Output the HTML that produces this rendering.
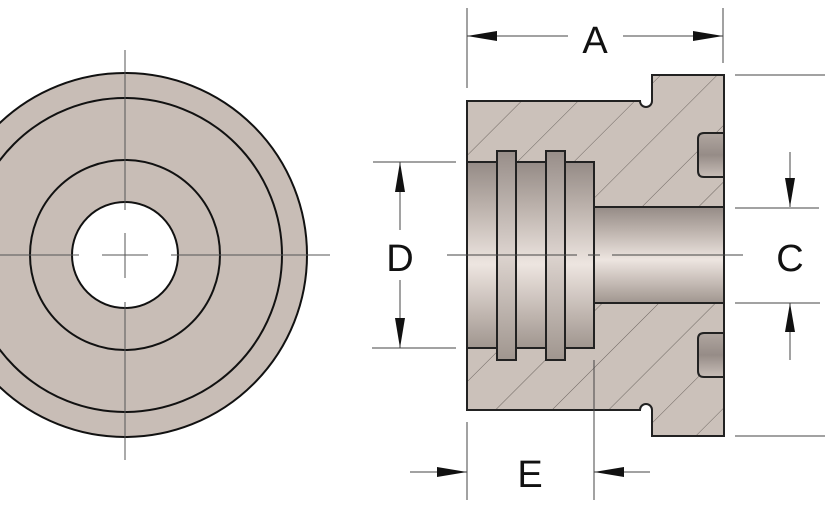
<!DOCTYPE html>
<html><head><meta charset="utf-8"><style>
html,body{margin:0;padding:0;background:#fff;}
svg{display:block}
text{font-family:"Liberation Sans",sans-serif;font-size:38px;fill:#111}
</style></head><body>
<svg width="825" height="510" viewBox="0 0 825 510" xmlns="http://www.w3.org/2000/svg">
<defs>
<pattern id="hatch" patternUnits="userSpaceOnUse" width="40" height="40" patternTransform="rotate(45)">
<rect width="40" height="40" fill="#cbc1ba"/>
<line x1="0" y1="0" x2="0" y2="40" stroke="#6e6661" stroke-width="1"/>
</pattern>
<linearGradient id="bore" x1="0" y1="0" x2="0" y2="1">
<stop offset="0" stop-color="#958b86"/><stop offset="0.25" stop-color="#bdb3ad"/>
<stop offset="0.55" stop-color="#ede5e0"/><stop offset="0.8" stop-color="#c3b9b3"/><stop offset="1" stop-color="#a0968f"/>
</linearGradient>
<linearGradient id="groove" x1="0" y1="0" x2="0" y2="1">
<stop offset="0" stop-color="#988e89"/><stop offset="0.5" stop-color="#dcd3ce"/><stop offset="1" stop-color="#a0968f"/>
</linearGradient>
<linearGradient id="pocket" x1="0" y1="0" x2="0" y2="1">
<stop offset="0" stop-color="#b0a6a0"/><stop offset="0.5" stop-color="#968c87"/><stop offset="1" stop-color="#c8beb8"/>
</linearGradient>
</defs>

<circle cx="125" cy="255" r="182" fill="#c8bdb6" stroke="#111" stroke-width="2"/>
<circle cx="125" cy="255" r="157" fill="none" stroke="#111" stroke-width="2"/>
<circle cx="125" cy="255" r="95" fill="none" stroke="#111" stroke-width="2"/>
<circle cx="125" cy="255" r="53" fill="#fff" stroke="#111" stroke-width="2"/>
<g stroke="#555" stroke-width="1">
<line x1="125" y1="50" x2="125" y2="210"/><line x1="125" y1="233" x2="125" y2="278"/><line x1="125" y1="302" x2="125" y2="460"/>
<line x1="0" y1="255" x2="79" y2="255"/><line x1="102" y1="255" x2="148" y2="255"/><line x1="171" y1="255" x2="330" y2="255"/>
</g>

<path d="M467,101 H640 A6,6 0 0 0 652,101 V75 H724 V436 H652 V410 A6,6 0 0 0 640,410 H467 Z" fill="url(#hatch)" stroke="#222" stroke-width="2"/>
<rect x="467" y="162" width="127" height="186" fill="url(#bore)" stroke="#222" stroke-width="2"/>
<rect x="497" y="151" width="19" height="209" fill="url(#groove)" stroke="#222" stroke-width="2"/>
<rect x="546" y="151" width="19" height="209" fill="url(#groove)" stroke="#222" stroke-width="2"/>
<rect x="594" y="207" width="130" height="96" fill="url(#bore)" stroke="#222" stroke-width="2"/>
<line x1="467" y1="162" x2="467" y2="348" stroke="#222" stroke-width="2"/>
<path d="M724,133 H704 Q698,133 698,139 V171 Q698,177 704,177 H724" fill="url(#pocket)" stroke="#222" stroke-width="2"/>
<path d="M724,333 H704 Q698,333 698,339 V371 Q698,377 704,377 H724" fill="url(#pocket)" stroke="#222" stroke-width="2"/>
<line x1="724" y1="133" x2="724" y2="177" stroke="#222" stroke-width="2"/>
<line x1="724" y1="333" x2="724" y2="377" stroke="#222" stroke-width="2"/>

<g stroke="#444" stroke-width="1">
<line x1="447" y1="255" x2="577" y2="255"/><line x1="588" y1="255" x2="600" y2="255"/><line x1="612" y1="255" x2="743" y2="255"/>
<line x1="467" y1="8" x2="467" y2="88"/><line x1="723" y1="8" x2="723" y2="63"/>
<line x1="467" y1="36" x2="568" y2="36"/><line x1="623" y1="36" x2="723" y2="36"/>
<line x1="735" y1="75" x2="825" y2="75"/><line x1="735" y1="436" x2="825" y2="436"/>
<line x1="735" y1="208" x2="819" y2="208"/><line x1="735" y1="303" x2="820" y2="303"/>
<line x1="790" y1="152" x2="790" y2="207"/><line x1="790" y1="303" x2="790" y2="360"/>
<line x1="373" y1="162" x2="456" y2="162"/><line x1="372" y1="348" x2="456" y2="348"/>
<line x1="400" y1="162" x2="400" y2="230"/><line x1="400" y1="280" x2="400" y2="348"/>
<line x1="467" y1="422" x2="467" y2="500"/><line x1="594" y1="360" x2="594" y2="500"/>
<line x1="410" y1="472" x2="467" y2="472"/><line x1="594" y1="472" x2="650" y2="472"/>
</g>
<g fill="#111">
<polygon points="467,36 497,31 497,41"/><polygon points="723,36 693,31 693,41"/>
<polygon points="790,207 785,178 795,178"/><polygon points="790,303 785,332 795,332"/>
<polygon points="400,162 395,192 405,192"/><polygon points="400,348 395,318 405,318"/>
<polygon points="467,472 437,467 437,477"/><polygon points="594,472 624,467 624,477"/>
</g>
<text x="595" y="53" text-anchor="middle">A</text>
<text x="400" y="271" text-anchor="middle">D</text>
<text x="790" y="271" text-anchor="middle">C</text>
<text x="530" y="487" text-anchor="middle">E</text>
</svg>
</body></html>
